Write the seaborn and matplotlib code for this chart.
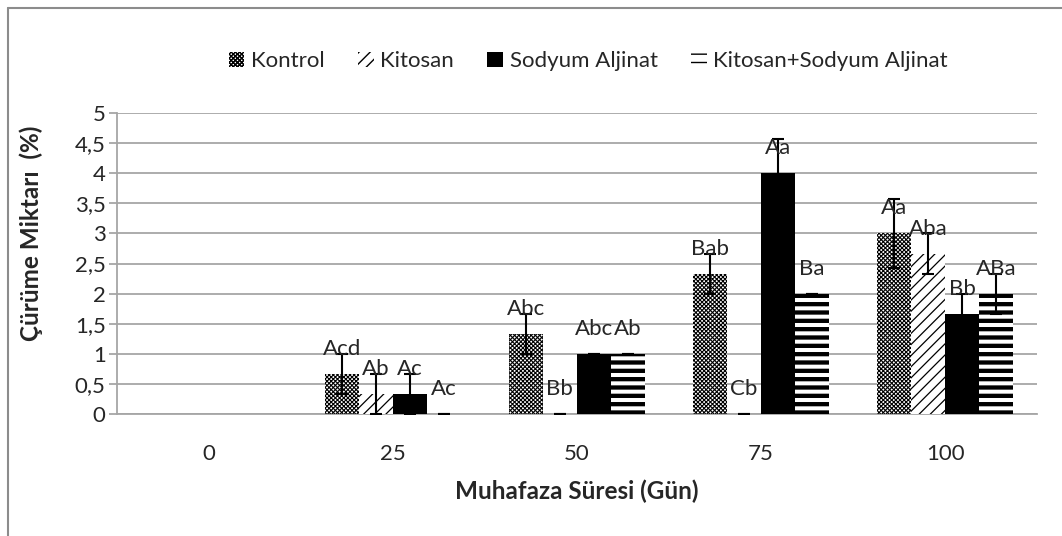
import matplotlib
matplotlib.use("Agg")
import matplotlib.pyplot as plt
from matplotlib.patches import Patch
from matplotlib.lines import Line2D
from matplotlib.ticker import FuncFormatter
import numpy as np
import pandas as pd
import seaborn as sns

# storage day (Gün)
gun = ['0', '25', '50', '75', '100']
gruplar = ['Kontrol', 'Kitosan', 'Sodyum Aljinat', 'Kitosan+Sodyum Aljinat']

# mean decay (%)
kontrol = [0, 0.667, 1.333, 2.333, 3.0]
kitosan = [0, 0.333, 0, 0, 2.667]
sodyum = [0, 0.333, 1.0, 4.0, 1.667]
kit_sod = [0, 0, 1.0, 2.0, 2.0]

# std deviations
kontrol_sd = [0, 0.333, 0.333, 0.333, 0.577]
kitosan_sd = [0, 0.333, 0, 0, 0.333]
sodyum_sd = [0, 0.333, 0, 0.577, 0.333]
kit_sod_sd = [0, 0, 0, 0, 0.333]

# significance letters
kontrol_lbl = ['', 'Acd', 'Abc', 'Bab', 'Aa']
kitosan_lbl = ['', 'Ab', 'Bb', 'Cb', 'Aba']
sodyum_lbl = ['', 'Ac', 'Abc', 'Aa', 'Bb']
kit_sod_lbl = ['', 'Ac', 'Ab', 'Ba', 'ABa']

degerler = [kontrol, kitosan, sodyum, kit_sod]
sapmalar = [kontrol_sd, kitosan_sd, sodyum_sd, kit_sod_sd]
etiketler = [kontrol_lbl, kitosan_lbl, sodyum_lbl, kit_sod_lbl]

df = pd.DataFrame({
    'gun': gun * 4,
    'grup': np.repeat(gruplar, len(gun)),
    'deger': kontrol + kitosan + sodyum + kit_sod,
})

sns.set_style('white')
plt.rcParams['font.family'] = ['Lato', 'DejaVu Sans']
FS = 16

# hatch style per group: facecolor, hatch, hatch linewidth
stiller = [('white', 'xxxxxxxx', 0.8),
           ('white', '///', 0.9),
           ('black', '', 1.0),
           ('white', '--', 3.1)]

fig = plt.figure(figsize=(10.62, 5.36), dpi=100)
ax = fig.add_axes([0.110, 0.2276, 0.8665, 0.5614])

sns.barplot(data=df, x='gun', y='deger', hue='grup', order=gun, hue_order=gruplar,
            palette=['white', 'white', 'black', 'white'], width=0.74, gap=0,
            errorbar=None, saturation=1, legend=False, ax=ax, zorder=3)

bar_konts = list(ax.containers)
for i, cont in enumerate(bar_konts):
    fc, htc, hlw = stiller[i]
    xs, ys, es = [], [], []
    for j, bar in enumerate(cont):
        bar.set_facecolor(fc)
        bar.set_edgecolor('black')
        bar.set_linewidth(0)
        bar.set_hatch(htc)
        if hasattr(bar, 'set_hatch_linewidth'):
            bar.set_hatch_linewidth(hlw)
        x = bar.get_x() + bar.get_width() / 2
        y = bar.get_height()
        t = etiketler[i][j]
        if t:
            xs.append(x)
            ys.append(y)
            es.append(sapmalar[i][j])
            ax.annotate(t, (x, y), xytext=(0, 18), textcoords='offset points',
                        ha='center', va='center', fontsize=FS, zorder=5)
    ax.errorbar(xs, ys, yerr=es, fmt='none', ecolor='black',
                elinewidth=1.5, capsize=4.5, capthick=1.5, zorder=4)

ax.set_ylim(0, 5)
ax.set_xlim(-0.5, 4.5)
ax.set_yticks(np.arange(0, 5.01, 0.5))
ax.yaxis.set_major_formatter(FuncFormatter(lambda v, p: ('%g' % v).replace('.', ',')))
ax.grid(axis='y', color='#a6a6a6', lw=1.3, zorder=0)
ax.set_axisbelow(True)
for s in ['top', 'right']:
    ax.spines[s].set_visible(False)
for s in ['left', 'bottom']:
    ax.spines[s].set_color('#a6a6a6')
    ax.spines[s].set_linewidth(1.3)
ax.tick_params(axis='y', left=True, length=6, width=1.3, color='#a6a6a6', labelsize=FS, pad=2)
ax.tick_params(axis='x', bottom=False, labelsize=FS, pad=18)

ax.set_xlabel('Muhafaza Süresi (Gün)', fontsize=17.5, fontweight='bold', labelpad=11)
ax.set_ylabel('Çürüme Miktarı  (%)', fontsize=17.5, fontweight='bold')
ax.yaxis.set_label_coords(-0.08, 0.6)

handles = []
for fc, htc, hlw in stiller:
    handles.append(Patch(facecolor=fc, edgecolor='black', linewidth=0, hatch=htc))
leg = fig.legend(handles, gruplar, loc='center', bbox_to_anchor=(0.554, 0.886),
                 ncol=4, frameon=False, fontsize=FS, handlelength=0.7, handleheight=0.7,
                 handletextpad=0.3, columnspacing=1.5)

# chart border (top and left edges visible)
fig.add_artist(Line2D([8 / 1062, 1.0], [1 - 8 / 536, 1 - 8 / 536], color='#8c8c8c', lw=1.5))
fig.add_artist(Line2D([8 / 1062, 8 / 1062], [0, 1 - 8 / 536], color='#8c8c8c', lw=1.5))

fig.savefig('out.png', dpi=100)
